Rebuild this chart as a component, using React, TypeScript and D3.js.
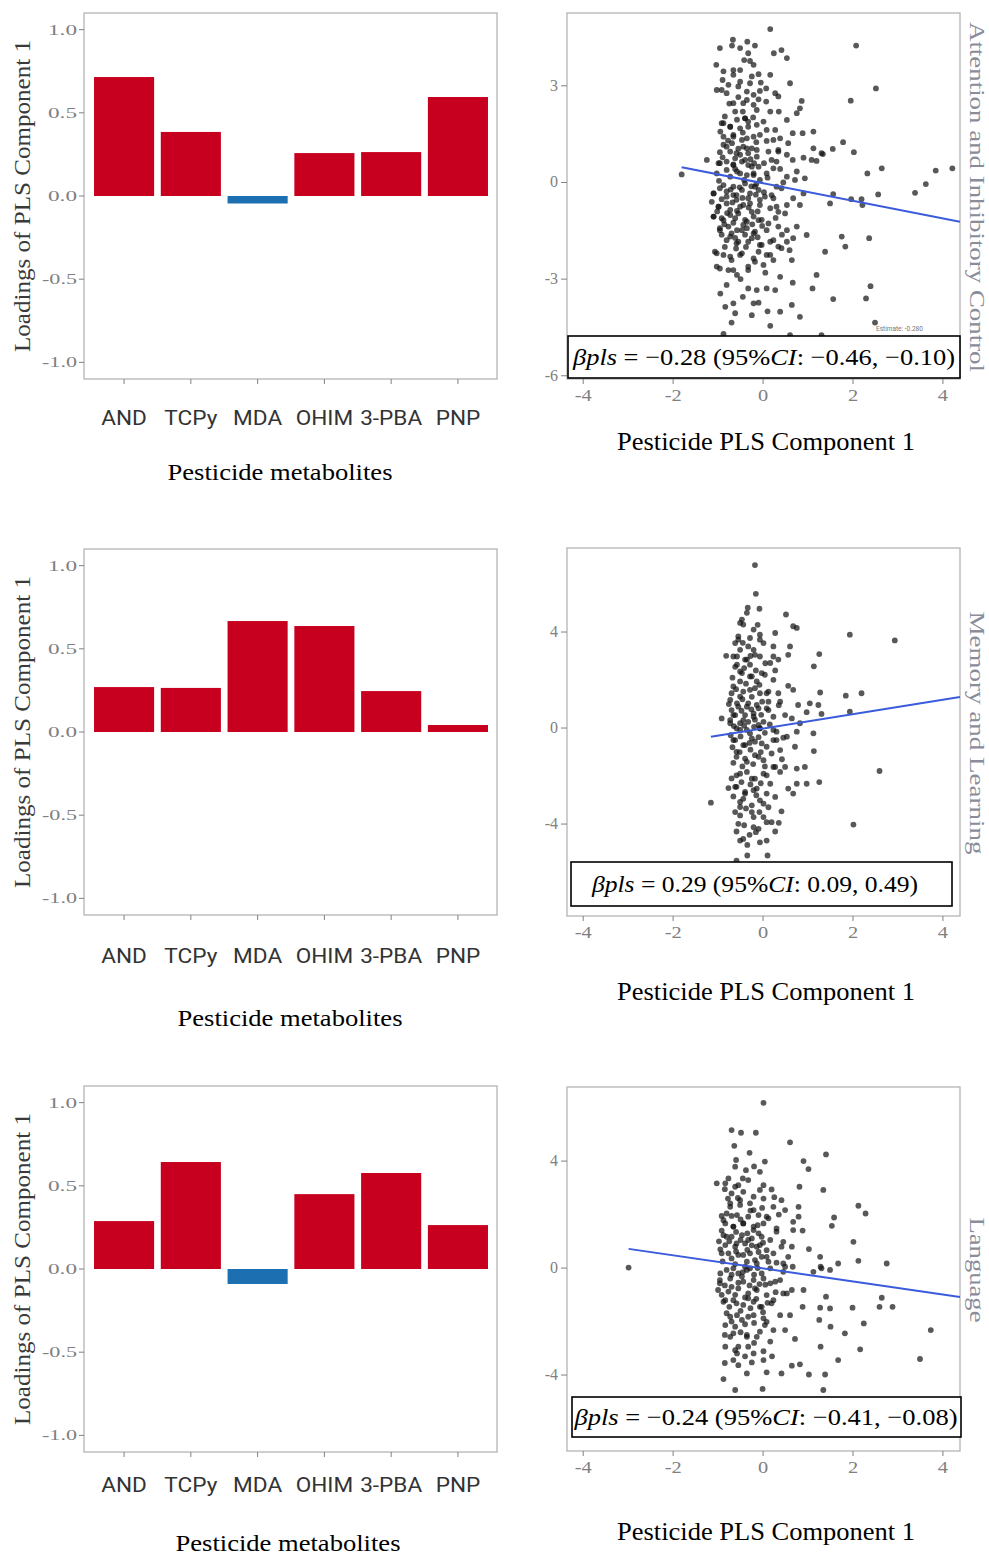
import React from "react";
import * as d3 from "d3";

// ---------------- data ----------------
const metabolites = ["AND", "TCPy", "MDA", "OHIM", "3-PBA", "PNP"];
const loadingsAttention = [0.715, 0.385, -0.045, 0.258, 0.264, 0.595];
const loadingsMemory = [0.27, 0.265, 0.667, 0.637, 0.246, 0.042];
const loadingsLanguage = [0.288, 0.643, -0.09, 0.45, 0.577, 0.264];
const loadingTicks = [1.0, 0.5, 0.0, -0.5, -1.0];
const loadingTickLabels = ["1.0", "0.5", "0.0", "-0.5", "-1.0"];

const outcomes = ["Attention and Inhibitory Control", "Memory and Learning", "Language"];
const pcTicks = [-4, -2, 0, 2, 4];
const yTicksAttention = [3, 0, -3, -6];
const yTicksMemory = [4, 0, -4];
const yTicksLanguage = [4, 0, -4];

const betaAttention = ["−0.28", "−0.46", "−0.10"];
const betaMemory = ["0.29", "0.09", "0.49"];
const betaLanguage = ["−0.24", "−0.41", "−0.08"];

// fitted lines: [intercept, slope]
const fitAttention = [-0.022, -0.273];
const fitMemory = [-0.018, 0.299];
const fitLanguage = [-0.012, -0.244];

const scatterAttention: [number, number][] = [
  [0.16,4.76],[2.07,4.25],[-0.96,4.17],[-0.67,4.43],[-0.69,4.25],[-0.51,4.17],[-0.35,4.37],[-0.18,4.25],[0.24,4.01],[0.41,4.11],
  [0.53,3.86],[-1.04,3.65],[-0.33,4.01],[-0.29,3.77],[-0.51,3.49],[-0.66,3.34],[-0.90,3.18],[-0.25,3.29],[-0.10,3.36],[0.16,3.34],
  [0.60,3.08],[2.51,2.92],[-1.03,2.87],[-0.77,3.03],[-0.55,2.98],[-0.36,2.82],[-0.21,2.72],[-0.07,2.84],[0.07,2.92],[0.27,2.77],
  [0.34,2.67],[0.86,2.53],[1.95,2.54],[-0.44,2.46],[-0.21,2.41],[0.07,2.51],[0.16,2.20],[0.75,2.15],[0.82,2.30],[-0.62,2.20],
  [-0.40,1.99],[-0.33,1.89],[-0.88,1.84],[-0.73,1.73],[-0.51,1.68],[-0.14,1.79],[0.01,1.89],[0.27,1.63],[0.53,1.94],[0.66,1.53],
  [0.88,1.53],[1.12,1.58],[-0.88,1.42],[-0.66,1.48],[-0.36,1.37],[-0.07,1.48],[0.08,1.29],[0.38,1.37],[0.56,1.22],[-0.88,1.17],
  [-0.69,1.22],[-0.44,1.11],[-0.25,1.06],[1.78,1.25],[2.02,0.94],[1.55,1.04],[1.12,1.06],[1.30,0.91],[1.33,0.88],[-0.96,0.94],
  [-0.73,0.96],[-0.51,0.86],[-0.33,0.91],[-0.14,1.01],[0.12,0.96],[0.34,0.96],[0.53,0.86],[0.66,0.70],[0.90,0.77],[1.08,0.70],
  [1.19,0.67],[-1.25,0.70],[-0.99,0.60],[-0.81,0.65],[-0.66,0.56],[-0.47,0.65],[-0.33,0.54],[-0.10,0.49],[0.30,0.65],[0.23,0.44],
  [0.38,0.42],[2.32,0.28],[2.64,0.44],[3.84,0.37],[4.21,0.44],[-1.81,0.25],[0.75,0.34],[0.93,0.13],[0.53,0.18],[0.71,0.08],
  [-0.58,0.34],[-0.36,0.23],[-0.21,0.28],[-0.81,0.39],
  [3.62,-0.05],[3.38,-0.32],[2.56,-0.37],[2.19,-0.52],[2.21,-0.70],[1.96,-0.52],[1.56,-0.36],[1.49,-0.65],[0.90,-0.34],[0.82,-0.70],
  [0.53,-0.70],[0.67,-0.49],[0.41,-0.18],[-1.10,-0.34],[-0.96,-0.18],[-0.81,-0.28],[-0.66,-0.39],[-0.47,-0.23],[-0.29,-0.34],[-0.10,-0.23],
  [0.04,-0.44],[0.23,-0.49],[-1.14,-0.60],[-0.99,-0.75],[-0.81,-0.65],[-0.59,-0.54],[-0.44,-0.70],[-0.29,-0.65],[-0.07,-0.70],[0.16,-0.80],
  [0.34,-0.91],[-1.10,-1.06],[-0.92,-1.11],[-0.73,-1.01],[-0.55,-0.96],[-0.40,-1.16],[-0.21,-1.06],[-0.03,-1.16],[0.12,-1.27],[0.34,-1.37],
  [-0.96,-1.42],[-0.77,-1.37],[-0.58,-1.48],[-0.36,-1.42],[-0.18,-1.53],[0.75,-1.37],[0.97,-1.63],[1.75,-1.68],[2.36,-1.73],[1.83,-1.99],
  [1.38,-2.15],[-0.73,-1.68],[-0.55,-1.84],[-0.25,-1.73],[-0.07,-1.94],[0.16,-1.84],[0.34,-1.99],[0.53,-1.84],[0.67,-1.73],[0.59,-2.10],
  [-1.07,-2.15],[-0.88,-2.25],[-0.70,-2.41],[-0.51,-2.25],[-0.18,-2.46],[0.08,-2.25],[0.23,-2.41],[0.64,-2.41],[-0.96,-2.67],[-0.77,-2.72],
  [-0.58,-2.87],[-0.33,-2.72],[0.38,-2.93],[1.19,-2.87],[-0.81,-3.18],[-0.33,-3.29],[-0.14,-3.34],[0.08,-3.29],[0.27,-3.34],[0.66,-3.11],
  [1.10,-3.29],[1.56,-3.62],[2.39,-3.22],[2.29,-3.60],[-0.84,-3.86],[-0.66,-3.75],[-0.21,-3.75],[-0.10,-3.73],[0.38,-4.01],[0.64,-3.80],
  [0.82,-4.17],[-0.62,-4.06],[-0.70,-4.35],[-0.25,-4.12],[0.16,-4.45],[2.49,-4.35],[-0.88,-4.70],[0.60,-4.74],[1.30,-4.74],
  [-0.92,1.84],[-0.73,1.73],[-0.40,1.99],[-0.33,1.73],[-0.66,1.42],[-0.47,1.32],[-0.21,1.42],[-0.81,1.11],[-0.59,0.91],[-0.36,1.06],
  [-0.14,0.80],[-0.96,0.60],[-0.66,0.54],[-0.40,0.70],[-0.25,0.49],[-1.03,0.28],[-0.73,0.18],[-0.51,0.28],[-0.21,0.23],[-0.07,0.08],
  [-0.88,-0.08],[-0.66,-0.13],[-0.40,-0.03],[-0.18,-0.13],[-1.10,-0.34],[-0.81,-0.44],[-0.59,-0.39],[-0.33,-0.49],[-0.07,-0.54],[-0.99,-0.75],
  [-0.73,-0.85],[-0.51,-0.75],[-0.25,-0.91],[-1.10,-1.06],[-0.88,-1.17],[-0.62,-1.11],[-0.36,-1.22],[-0.10,-1.17],[-0.96,-1.48],[-0.70,-1.58],
  [-0.47,-1.48],[-0.21,-1.58],[0.08,-1.48],[-0.81,-1.79],[-0.59,-1.89],[-0.33,-1.84],[-0.03,-1.94],[0.23,-1.79],[-1.03,-2.20],[-0.73,-2.30],
  [-0.47,-2.20],[-0.21,-2.36],[0.16,-2.25],[0.41,-2.04],[0.53,-1.48],[0.49,-0.96],[0.30,-0.75],[0.19,-0.39],[0.30,-0.13],[0.08,0.28],
  [0.19,0.70],[0.34,1.01],[0.23,1.32],[0.08,1.63],[-0.14,2.25],[-0.36,2.56],[-0.66,2.46],[-0.81,2.77],[-0.29,3.08],[-0.51,3.13],
  [-0.92,2.87],[-0.66,3.49],[-0.21,3.65],[-1.03,-2.61],[-0.66,-2.72],[-0.33,-2.61],[0.01,-2.56],
  [-0.85,2.05],[-0.58,1.95],[-0.22,2.02],[-0.95,1.58],[-0.45,1.55],[-0.15,1.25],[-0.78,1.30],[-0.55,1.05],[-0.28,0.72],[-0.90,0.78],
  [-0.62,0.42],[-0.42,0.08],[-0.15,-0.05],[-0.98,0.05],[-0.72,-0.22],[-0.52,-0.15],[-0.26,-0.12],[-0.92,-0.52],[-0.68,-0.62],[-0.46,-0.48],
  [-0.16,-0.38],[-1.02,-0.90],[-0.80,-0.95],[-0.58,-0.88],[-0.32,-0.78],[-0.12,-0.90],[-0.86,-1.30],[-0.66,-1.25],[-0.44,-1.32],[-0.24,-1.30],
  [-0.02,-1.35],[-0.92,-1.62],[-0.62,-1.72],[-0.40,-1.62],[-0.12,-1.70],[-0.85,-2.00],[-0.60,-2.05],[-0.38,-2.00],[-0.10,-2.15],[-0.62,0.75],
  [-0.20,0.60],[0.02,0.60],[0.10,0.15],[0.02,-0.30],[-0.45,2.20],[-0.75,2.45],[-0.10,2.58],[-0.55,2.65],[-0.88,3.45],[-0.42,3.80],
  [-0.05,3.10],[0.35,2.20],[0.45,0.00],[0.28,-1.10],[0.42,-1.62],[0.05,-2.80],[-0.50,-3.00],[-0.95,-3.45],[-0.45,-3.55],[0.10,-4.00],
];

const scatterMemory: [number, number][] = [
  [-0.18,6.79],[-0.16,5.59],[-0.34,5.01],[-0.08,4.97],[0.51,4.73],[0.67,4.24],[0.75,4.17],[-0.47,4.52],[-0.44,4.31],[1.93,3.89],
  [2.93,3.65],[0.27,3.96],[-0.55,3.82],[-0.29,3.75],[-0.07,3.89],[-0.62,3.54],[0.01,3.54],[0.23,3.40],[0.60,3.40],[-0.51,3.26],
  [-0.21,3.26],[-0.82,3.01],[-0.58,2.98],[-0.36,2.85],[-0.07,2.98],[0.23,2.98],[0.56,3.05],[1.25,3.08],[-0.58,2.64],[-0.29,2.64],
  [0.16,2.71],[0.34,2.85],[1.13,2.57],[-0.47,2.29],[-0.25,2.15],[0.04,2.22],[0.27,2.40],[-0.51,1.94],[-0.14,1.94],[0.23,2.01],
  [0.56,1.76],[0.67,1.59],[1.27,1.48],[1.84,1.35],[2.19,1.45],[-0.70,1.45],[-0.51,1.31],[-0.29,1.59],[-0.07,1.45],[0.12,1.52],
  [0.34,1.45],[0.38,1.10],[-0.76,1.00],[-0.58,1.03],[-0.36,0.89],[-0.14,0.96],[0.08,0.82],[0.78,0.96],[1.04,1.03],[1.23,0.96],
  [0.97,0.66],[1.30,0.59],[1.93,0.68],[-0.92,0.40],[-0.62,0.54],[-0.40,0.54],[-0.21,0.61],[0.23,0.47],[0.49,0.54],[0.64,0.40],
  [-0.73,0.20],[-0.51,0.20],[-0.33,0.26],[-0.10,0.13],[0.82,0.20],
  [-0.59,-0.01],[-0.36,-0.08],[-0.07,-0.01],[0.30,-0.15],[0.53,-0.36],[0.75,-0.15],[1.12,-0.22],[0.71,-0.78],[1.13,-0.96],[-0.62,-0.50],
  [-0.44,-0.71],[-0.25,-0.43],[-0.03,-0.64],[0.23,-0.50],[0.38,-0.92],[-0.59,-0.99],[-0.40,-1.27],[-0.18,-1.13],[0.01,-1.34],[0.23,-1.62],
  [0.49,-1.62],[0.75,-1.69],[0.93,-1.62],[2.59,-1.79],[-0.59,-1.97],[-0.36,-1.83],[-0.18,-2.11],[0.08,-1.97],[0.38,-1.83],[0.75,-2.32],
  [0.97,-2.32],[1.25,-2.25],[0.56,-2.52],[0.67,-2.73],[-0.77,-2.50],[-0.59,-2.45],[-0.40,-2.66],[-0.21,-2.59],[0.08,-2.73],[0.27,-2.87],
  [-1.16,-3.11],[-0.51,-3.08],[-0.25,-3.22],[-0.07,-3.01],[0.41,-3.47],[-0.51,-3.64],[-0.21,-3.71],[0.01,-3.71],[0.19,-3.92],[2.01,-4.02],
  [-0.59,-4.31],[-0.16,-4.34],[0.27,-4.31],[-0.51,-4.69],[0.08,-4.69],[-0.35,-4.87],[-0.35,-5.31],[0.10,-5.31],[-0.59,-5.52],
  [-0.55,3.68],[-0.33,3.40],[-0.07,3.68],[-0.66,2.98],[-0.40,2.85],[-0.18,3.05],[-0.51,2.36],[-0.29,2.15],[-0.03,2.29],[-0.66,1.73],
  [-0.44,1.52],[-0.18,1.66],[0.08,1.45],[-0.73,1.17],[-0.55,0.89],[-0.33,1.03],[-0.10,0.82],[-0.66,0.54],[-0.44,0.33],[-0.21,0.47],
  [0.01,0.26],[-0.51,-0.08],[-0.29,-0.22],[-0.07,-0.01],[-0.66,-0.50],[-0.40,-0.71],[-0.18,-0.57],[0.08,-0.78],[-0.59,-1.20],[-0.36,-1.41],
  [-0.10,-1.20],[-0.51,-1.90],[-0.25,-2.11],[0.01,-1.90],[-0.62,-2.45],[-0.40,-2.73],[-0.14,-2.52],[-0.51,-3.29],[-0.25,-3.50],[0.01,-3.15],
  [-0.55,-3.99],[-0.21,-4.13],[0.08,-3.92],[-0.44,-4.62],[-0.07,-4.76],[-0.73,0.33],[0.12,0.75],[0.23,-0.08],[0.30,-0.50],[0.19,-1.06],
  [0.27,-1.62],[0.16,-2.32],[-0.36,4.80],[-0.51,4.38],[-0.21,4.10],
  [-0.62,2.55],[-0.42,2.50],[-0.16,2.40],[-0.68,2.10],[-0.38,1.85],[-0.08,1.80],[-0.60,1.62],[-0.25,1.30],[-0.46,1.20],[-0.02,1.10],
  [-0.70,0.75],[-0.48,0.72],[-0.26,0.78],[-0.04,0.55],[-0.65,0.08],[-0.42,0.10],[-0.20,0.05],[0.04,-0.20],[-0.72,-0.30],[-0.50,-0.35],
  [-0.30,-0.62],[-0.10,-0.38],[-0.68,-0.80],[-0.52,-1.00],[-0.28,-0.90],[-0.05,-1.00],[-0.66,-1.45],[-0.46,-1.60],[-0.22,-1.50],[0.04,-1.60],
  [-0.70,-2.10],[-0.48,-2.25],[-0.28,-2.35],[-0.05,-2.30],[-0.66,-2.85],[-0.44,-2.95],[-0.15,-2.80],[0.12,-3.30],[-0.62,-3.50],[-0.38,-3.35],
  [-0.08,-3.50],[-0.42,-4.05],[-0.30,-4.45],[-0.10,-4.20],[0.35,-3.95],[-0.18,0.35],[0.15,0.15],[0.12,1.10],[0.05,2.70],[-0.28,3.00],
  [-0.45,3.55],[-0.12,4.30],[0.35,0.95],[0.45,-0.40],[0.42,-1.30],
];

const scatterLanguage: [number, number][] = [
  [0.01,6.18],[-0.70,5.16],[-0.49,5.06],[-0.16,5.06],[0.60,4.70],[-0.64,4.57],[1.40,4.25],[-0.30,4.31],[-0.60,4.04],[0.04,3.98],
  [0.90,4.00],[1.01,3.70],[-0.62,3.79],[-0.38,3.66],[-0.07,3.60],[-0.77,3.35],[-1.03,3.17],[-0.84,3.17],[-0.55,3.10],[0.01,3.10],
  [0.19,2.94],[0.81,3.04],[1.34,2.92],[-0.70,2.79],[-0.44,2.85],[-0.21,2.67],[0.01,2.60],[0.41,2.54],[-0.73,2.42],[-0.51,2.36],
  [-0.29,2.42],[0.23,2.29],[0.49,2.17],[0.79,2.29],[2.12,2.33],[2.28,2.04],[-0.81,2.04],[-0.58,1.98],[-0.33,1.92],[-0.10,1.98],
  [0.12,1.86],[0.67,1.73],[0.79,1.92],[1.58,1.89],[1.53,1.58],[-0.84,1.67],[-0.66,1.55],[-0.44,1.67],[-0.21,1.55],[0.01,1.67],
  [0.30,1.36],[0.67,1.42],[0.88,1.40],[-0.88,1.23],[-0.70,1.17],[-0.47,1.23],[-0.25,1.11],[-0.03,1.17],[0.16,1.05],[0.45,0.98],
  [2.01,0.98],[-0.84,0.86],[-0.62,0.80],[-0.40,0.92],[-0.14,0.80],[0.08,0.67],[0.64,0.80],[1.02,0.71],[-0.77,0.55],[-0.55,0.49],
  [-0.29,0.55],[-0.03,0.42],[0.23,0.55],[0.56,0.42],[1.27,0.42],[1.67,0.17],[2.12,0.27],[2.75,0.17],[-2.99,0.02],[-0.36,0.24],
  [-0.14,0.17],[0.12,0.24],[0.45,0.17],[0.66,0.05],[1.28,0.05],
  [-0.66,-0.01],[-0.36,-0.07],[0.16,-0.01],[0.45,-0.14],[1.12,-0.14],[1.30,-0.01],[1.49,-0.07],[-0.96,-0.45],[-0.73,-0.39],[-0.47,-0.32],
  [-0.21,-0.45],[0.01,-0.39],[0.27,-0.51],[0.45,-0.95],[0.64,-0.82],[0.90,-0.82],[-1.00,-0.82],[-0.77,-0.88],[-0.55,-0.76],[-0.33,-0.95],
  [-0.14,-0.82],[0.08,-1.01],[1.40,-1.07],[2.64,-1.11],[2.88,-1.45],[2.59,-1.45],[1.99,-1.48],[0.88,-1.45],[1.27,-1.48],[1.49,-1.51],
  [-0.88,-1.26],[-0.66,-1.20],[-0.44,-1.38],[-0.21,-1.26],[-0.03,-1.45],[0.19,-1.32],[0.38,-1.76],[0.60,-1.76],[1.25,-1.94],[1.50,-2.19],
  [1.82,-2.44],[2.24,-2.07],[3.73,-2.32],[-0.81,-1.69],[-0.58,-1.76],[-0.33,-1.82],[0.01,-1.88],[0.23,-2.32],[0.49,-2.32],[-0.84,-2.13],
  [-0.62,-2.19],[-0.36,-2.50],[-0.14,-2.57],[0.04,-2.13],[0.71,-2.65],[-0.73,-2.57],[-0.84,-2.94],[-0.62,-3.07],[-0.33,-2.94],[0.16,-2.75],
  [1.28,-2.94],[2.16,-3.04],[3.49,-3.40],[1.67,-3.44],[0.01,-3.11],[-0.58,-3.19],[-0.55,-3.63],[-0.25,-3.53],[0.01,-3.44],[0.64,-3.65],
  [0.82,-3.60],[-0.88,-4.15],[-0.36,-3.94],[0.08,-3.90],[0.41,-3.94],[1.02,-3.98],[1.38,-3.98],[-0.62,-4.56],[-0.01,-4.52],[1.34,-4.56],
  [-0.88,1.79],[-0.66,1.55],[-0.44,1.67],[-0.21,1.42],[-0.81,1.17],[-0.59,0.92],[-0.33,1.05],[-0.07,0.86],[-0.92,0.55],[-0.70,0.36],
  [-0.44,0.49],[-0.18,0.30],[0.08,0.42],[-0.81,-0.07],[-0.55,-0.20],[-0.29,-0.01],[-0.03,-0.20],[-0.96,-0.57],[-0.70,-0.70],[-0.44,-0.51],
  [-0.18,-0.76],[0.16,-0.57],[-0.84,-1.20],[-0.59,-1.32],[-0.33,-1.13],[-0.07,-1.45],[0.23,-1.20],[-0.73,-1.82],[-0.47,-1.94],[-0.21,-1.76],
  [0.08,-2.01],[-0.66,-2.44],[-0.36,-2.57],[-0.07,-2.38],[-0.73,2.29],[-0.51,2.54],[-0.21,2.17],[0.08,1.92],[0.30,1.48],[0.41,0.80],
  [0.49,0.05],[0.38,-0.45],[0.53,-0.95],[-0.62,3.04],[-0.33,3.29],[-0.07,2.92],[-0.55,-2.94],[-0.21,-3.19],[-0.66,-3.44],
  [-0.78,2.60],[-0.56,2.62],[-0.28,2.15],[-0.02,2.25],[-0.92,1.95],[-0.70,1.95],[-0.50,1.82],[-0.12,1.60],[-0.92,1.40],[-0.60,1.35],
  [-0.35,1.30],[-0.10,1.30],[-0.98,1.00],[-0.75,1.00],[-0.50,1.05],[-0.25,0.85],[0.00,0.95],[-0.95,0.70],[-0.60,0.62],[-0.35,0.68],
  [-0.10,0.60],[-0.90,0.25],[-0.62,0.15],[-0.40,0.05],[-0.12,0.00],[-0.95,-0.20],[-0.70,-0.25],[-0.45,-0.15],[-0.20,-0.25],[0.05,-0.62],
  [-0.85,-0.65],[-0.55,-0.55],[-0.30,-0.65],[-0.08,-0.60],[-0.92,-1.00],[-0.62,-1.00],[-0.40,-1.10],[-0.15,-1.15],[0.10,-1.30],[-0.75,-1.45],
  [-0.50,-1.60],[-0.28,-1.50],[0.00,-1.65],[-0.70,-2.00],[-0.40,-2.10],[-0.20,-2.05],[-0.50,-2.40],[-0.85,-2.50],[-0.20,-2.80],[-0.40,-3.30],
  [-0.85,-3.55],[0.20,-3.30],[0.30,0.20],[0.28,-0.90],[0.35,2.00],[0.25,2.65],[-0.45,3.35],[-0.20,3.80],[-0.85,2.95],
];

// ---------------- layout / style ----------------
const RED = "#C8001F";
const BLUE = "#1C6FB0";
const FRAME = "#b4b4b4";
const TICKC = "#808080";
const SERIF = "'Liberation Serif', 'Times New Roman', Times, serif";
const SANS = "Roboto, 'Noto Sans', sans-serif";

type Row = {
  loadings: number[];
  top: number; bottom: number; catY: number; xTitleX: number; xTitleY: number;
  sTop: number; sBottom: number; yDomain: [number, number]; yTicks: number[];
  xTickY: number; sTitleY: number;
  box: { x: number; y: number; w: number; h: number }; beta: string[]; betaLen: number; betaX: number; betaY: number;
  stripCY: number; stripLen: number; outcome: string;
  points: [number, number][]; fit: number[];
};

const rows: Row[] = [
  {
    loadings: loadingsAttention, top: 13, bottom: 379, catY: 425, xTitleX: 280, xTitleY: 480,
    sTop: 13, sBottom: 379, yDomain: [-6.1, 5.26], yTicks: yTicksAttention, xTickY: 401, sTitleY: 450,
    box: { x: 568, y: 336, w: 392, h: 42 }, beta: betaAttention, betaLen: 382, betaX: 764, betaY: 365,
    stripCY: 197, stripLen: 350, outcome: outcomes[0], points: scatterAttention, fit: fitAttention,
  },
  {
    loadings: loadingsMemory, top: 549, bottom: 915, catY: 963, xTitleX: 290, xTitleY: 1026,
    sTop: 548, sBottom: 916, yDomain: [-7.83, 7.5], yTicks: yTicksMemory, xTickY: 938, sTitleY: 1000,
    box: { x: 571, y: 862, w: 381, h: 44 }, beta: betaMemory, betaLen: 326, betaX: 755, betaY: 892,
    stripCY: 733, stripLen: 243, outcome: outcomes[1], points: scatterMemory, fit: fitMemory,
  },
  {
    loadings: loadingsLanguage, top: 1086, bottom: 1452, catY: 1492, xTitleX: 288, xTitleY: 1551,
    sTop: 1087, sBottom: 1451, yDomain: [-6.84, 6.77], yTicks: yTicksLanguage, xTickY: 1473, sTitleY: 1540,
    box: { x: 572, y: 1397, w: 389, h: 40 }, beta: betaLanguage, betaLen: 383, betaX: 766, betaY: 1425,
    stripCY: 1270, stripLen: 105, outcome: outcomes[2], points: scatterLanguage, fit: fitLanguage,
  },
];

function BarPanel({ row }: { row: Row }) {
  const x = d3.scaleBand<string>().domain(metabolites).range([84, 498]).paddingInner(0.1).paddingOuter(0.15);
  const y = d3.scaleLinear().domain([-1.1, 1.1]).range([row.bottom, row.top]);
  const cy = (row.top + row.bottom) / 2;
  return (
    <g>
      <rect x={84} y={row.top} width={413} height={row.bottom - row.top} fill="#fff" stroke={FRAME} strokeWidth={1.3} />
      {row.loadings.map((v, i) => (
        <rect key={i} x={x(metabolites[i])} y={y(Math.max(v, 0))} width={x.bandwidth()}
          height={Math.abs(y(v) - y(0))} fill={v >= 0 ? RED : BLUE} />
      ))}
      {loadingTicks.map((t, i) => (
        <g key={i}>
          <line x1={79} x2={84} y1={y(t)} y2={y(t)} stroke={TICKC} strokeWidth={1} />
          <text x={77} y={y(t) + 5} textAnchor="end" fontFamily={SERIF} fontSize={15} fill={TICKC}
            textLength={loadingTickLabels[i].length > 3 ? 35 : 29} lengthAdjust="spacingAndGlyphs">
            {loadingTickLabels[i]}
          </text>
        </g>
      ))}
      {metabolites.map((m) => {
        const cx = (x(m) as number) + x.bandwidth() / 2;
        return (
          <g key={m}>
            <line x1={cx} x2={cx} y1={row.bottom} y2={row.bottom + 5} stroke={TICKC} strokeWidth={1} />
            <text transform={`translate(${cx},${row.catY}) scale(1.13,1)`} textAnchor="middle"
              fontFamily={SANS} fontSize={20} fill="#333">{m}</text>
          </g>
        );
      })}
      <text transform={`translate(30,${cy}) rotate(-90)`} textAnchor="middle" fontFamily={SERIF} fontSize={23}
        fill="#3a3a3a" textLength={312} lengthAdjust="spacingAndGlyphs">Loadings of PLS Component 1</text>
      <text x={row.xTitleX} y={row.xTitleY} textAnchor="middle" fontFamily={SERIF} fontSize={24} fill="#000"
        textLength={225} lengthAdjust="spacingAndGlyphs">Pesticide metabolites</text>
    </g>
  );
}

function ScatterPanel({ row, index }: { row: Row; index: number }) {
  const x = d3.scaleLinear().domain([-4.36, 4.38]).range([567, 960]);
  const y = d3.scaleLinear().domain(row.yDomain).range([row.sBottom, row.sTop]);
  const xMin = d3.min(row.points, (p) => p[0]) as number;
  const xMax = x.domain()[1];
  const [a, b] = row.fit;
  const line = d3.line<number>().x((v) => x(v)).y((v) => y(a + b * v));
  const clipId = `clip${index}`;
  return (
    <g>
      <defs>
        <clipPath id={clipId}>
          <rect x={567} y={row.sTop} width={393} height={row.sBottom - row.sTop} />
        </clipPath>
      </defs>
      <rect x={567} y={row.sTop} width={393} height={row.sBottom - row.sTop} fill="#fff" stroke={FRAME} strokeWidth={1.3} />
      <g clipPath={`url(#${clipId})`}>
        {row.points.map((p, i) => (
          <circle key={i} cx={x(p[0])} cy={y(p[1])} r={2.9} fill="#111" fillOpacity={0.7} />
        ))}
        <path d={line([xMin, xMax]) as string} stroke="#3a5bdc" strokeWidth={2} fill="none" />
      </g>
      {row.yTicks.map((t) => (
        <g key={t}>
          <line x1={561} x2={567} y1={y(t)} y2={y(t)} stroke={TICKC} strokeWidth={1} />
          <text x={558} y={y(t) + 5} textAnchor="end" fontFamily={SERIF} fontSize={16} fill={TICKC}>{String(t)}</text>
        </g>
      ))}
      {pcTicks.map((t) => (
        <g key={t}>
          <line x1={x(t)} x2={x(t)} y1={row.sBottom} y2={row.sBottom + 5} stroke={TICKC} strokeWidth={1} />
          <text transform={`translate(${x(t)},${row.xTickY}) scale(1.2,1)`} textAnchor="middle" fontFamily={SERIF}
            fontSize={17} fill={TICKC}>{String(t)}</text>
        </g>
      ))}
      {index === 0 && (
        <text x={876} y={331} fontFamily={SANS} fontSize={6.5} fill="#777">Estimate: -0.280</text>
      )}
      <rect x={row.box.x} y={row.box.y} width={row.box.w} height={row.box.h} fill="#fff" stroke="#000" strokeWidth={1.6} />
      <text x={row.betaX} y={row.betaY} textAnchor="middle" fontFamily={SERIF} fontSize={24} fill="#000"
        textLength={row.betaLen} lengthAdjust="spacingAndGlyphs">
        <tspan fontStyle="italic">βpls</tspan>
        {` = ${row.beta[0]} (95%`}
        <tspan fontStyle="italic">CI</tspan>
        {`: ${row.beta[1]}, ${row.beta[2]})`}
      </text>
      <text transform={`translate(970,${row.stripCY}) rotate(90)`} textAnchor="middle" fontFamily={SERIF}
        fontSize={21} fill="#8a8c99" textLength={row.stripLen} lengthAdjust="spacingAndGlyphs">{row.outcome}</text>
      <text x={766} y={row.sTitleY} textAnchor="middle" fontFamily={SERIF} fontSize={25} fill="#000"
        textLength={298} lengthAdjust="spacingAndGlyphs">Pesticide PLS Component 1</text>
    </g>
  );
}

export default function App() {
  return (
    <svg width={989} height={1560} viewBox="0 0 989 1560"
      style={{ position: "absolute", left: 0, top: 0, background: "#fff", display: "block" }}>
      <rect x={0} y={0} width={989} height={1560} fill="#fff" />
      {rows.map((row, i) => (
        <g key={i}>
          <BarPanel row={row} />
          <ScatterPanel row={row} index={i} />
        </g>
      ))}
    </svg>
  );
}
